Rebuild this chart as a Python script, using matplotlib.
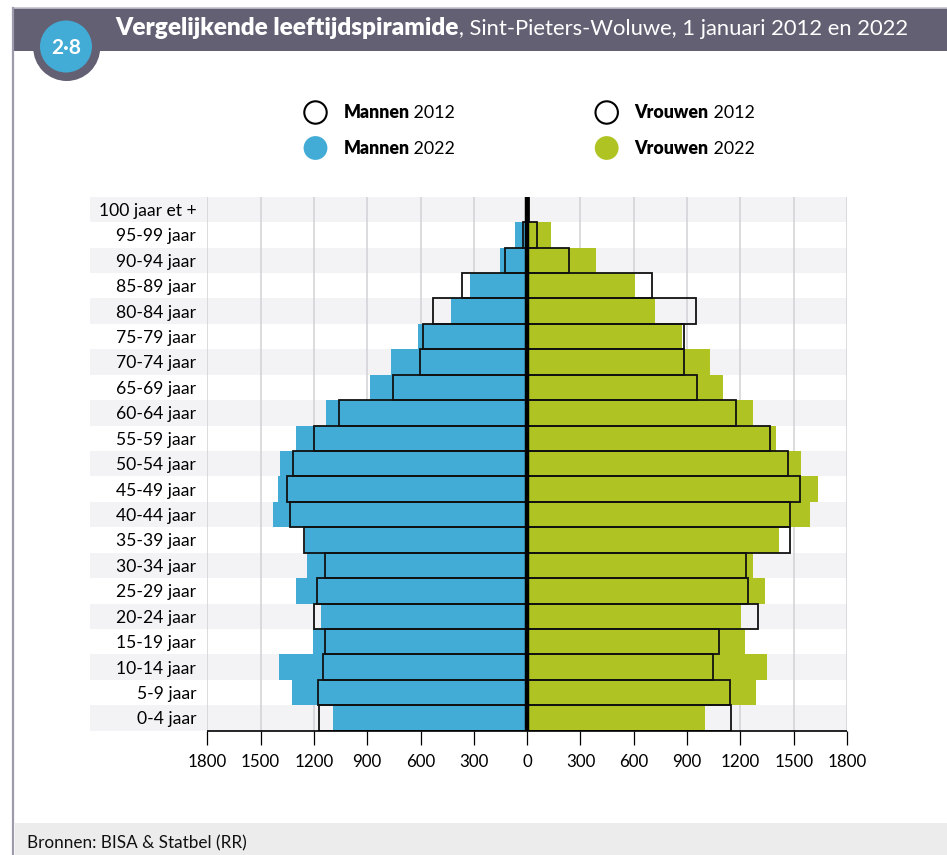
import matplotlib
matplotlib.use("Agg")
import matplotlib.pyplot as plt
from matplotlib.patches import Rectangle, Circle

# ---------------- data ----------------
age_groups = ["0-4 jaar", "5-9 jaar", "10-14 jaar", "15-19 jaar", "20-24 jaar",
              "25-29 jaar", "30-34 jaar", "35-39 jaar", "40-44 jaar", "45-49 jaar",
              "50-54 jaar", "55-59 jaar", "60-64 jaar", "65-69 jaar", "70-74 jaar",
              "75-79 jaar", "80-84 jaar", "85-89 jaar", "90-94 jaar", "95-99 jaar",
              "100 jaar et +"]
men_2022 = [1093, 1323, 1397, 1205, 1160, 1301, 1239, 1250, 1430, 1402,
            1391, 1301, 1132, 885, 767, 615, 431, 322, 154, 69, 3]
men_2012 = [1173, 1175, 1147, 1136, 1200, 1181, 1136, 1254, 1335, 1350,
            1316, 1198, 1057, 757, 602, 588, 532, 369, 127, 22, 2]
women_2022 = [999, 1286, 1352, 1224, 1202, 1337, 1270, 1416, 1590, 1634,
              1540, 1399, 1270, 1101, 1027, 874, 718, 605, 386, 133, 10]
women_2012 = [1150, 1144, 1046, 1080, 1300, 1241, 1232, 1481, 1481, 1536,
              1466, 1365, 1178, 956, 880, 883, 953, 700, 238, 56, 8]
x_ticks = [-1800, -1500, -1200, -900, -600, -300, 0, 300, 600, 900, 1200, 1500, 1800]
x_tick_labels = ["1800", "1500", "1200", "900", "600", "300", "0",
                 "300", "600", "900", "1200", "1500", "1800"]
title_bold = "Vergelijkende leeftijdspiramide"
title_rest = ", Sint-Pieters-Woluwe, 1 januari 2012 en 2022"
legend_items = [("Mannen", " 2012"), ("Mannen", " 2022"),
                ("Vrouwen", " 2012"), ("Vrouwen", " 2022")]
source = "Bronnen: BISA & Statbel (RR)"
badge = "2·8"

# ---------------- style ----------------
W, H = 947, 855
BLUE = "#42acd6"
GREEN = "#afc423"
BAND = "#636073"
STRIPE = "#f3f3f5"
GRID = "#d2d2d6"
FONT = ["Lato", "DejaVu Sans"]
plt.rcParams["font.family"] = FONT

fig = plt.figure(figsize=(W / 100, H / 100), dpi=100)
fig.patch.set_facecolor("white")

# overlay axes in pixel coordinates
ov = fig.add_axes([0, 0, 1, 1], zorder=-1)
ov.set_xlim(0, W)
ov.set_ylim(H, 0)
ov.axis("off")

# main axes
x0, x1 = 207.3, 847.0
y0, y1 = 196.7, 730.7
ax = fig.add_axes([x0 / W, 1 - y1 / H, (x1 - x0) / W, (y1 - y0) / H], zorder=1)
ax.patch.set_visible(False)
ax.set_xlim(-1800, 1800)
ax.set_ylim(-0.5, len(age_groups) - 0.5)
for s in ax.spines.values():
    s.set_visible(False)

ypos = list(range(len(age_groups)))

# stripes
stripe_left = (90 - x0) / (x1 - x0)
for i in ypos:
    if i % 2 == 0:
        ax.add_patch(Rectangle((stripe_left, i - 0.5), 1 - stripe_left, 1,
                               transform=ax.get_yaxis_transform(),
                               facecolor=STRIPE, edgecolor="none",
                               clip_on=False, zorder=0))
# grid
for t in x_ticks:
    if t != 0:
        ax.axvline(t, color=GRID, lw=1.1, zorder=1)

# bars
ax.barh(ypos, [-v for v in men_2022], height=1.0, color=BLUE, lw=0, zorder=2)
ax.barh(ypos, women_2022, height=1.0, color=GREEN, lw=0, zorder=2)
ax.barh(ypos, [-v for v in men_2012], height=1.0, fill=False,
        edgecolor="#111111", lw=1.3, zorder=3)
ax.barh(ypos, women_2012, height=1.0, fill=False,
        edgecolor="#111111", lw=1.3, zorder=3)
ax.axvline(0, color="black", lw=3.2, zorder=5)
ax.plot([-1800, 1800], [-0.5, -0.5], color="black", lw=1.2,
        clip_on=False, zorder=6, solid_capstyle="butt")

ax.set_xticks(x_ticks)
ax.set_xticklabels(x_tick_labels, fontsize=12.2)
ax.tick_params(axis="x", length=10, width=0.9, color="black", pad=7)
ax.set_yticks(ypos)
ax.set_yticklabels(age_groups, fontsize=12.6)
ax.tick_params(axis="y", length=0, pad=8)

# ---------------- header ----------------
ov.add_patch(Rectangle((13.3, 8.3), W - 13.3, 43, facecolor=BAND, edgecolor="none"))
ov.plot([13.3, W], [8.3, 8.3], color="#c4c2cc", lw=1.2)
ov.plot([13.3, 13.3], [8.3, H], color="#9d9bab", lw=1.6)
ov.add_patch(Circle((66.7, 47.5), 33.5, facecolor=BAND, edgecolor="none"))
ov.add_patch(Circle((66.0, 46.5), 26.0, facecolor=BLUE, edgecolor="none"))
ov.text(66.0, 48.0, badge, color="white", fontsize=15, fontweight="bold",
        ha="center", va="center")

fig.canvas.draw()
R = fig.canvas.get_renderer()


def extent(t):
    return t.get_window_extent(R)


def fit(t, target):
    t.set_fontsize(t.get_fontsize() * target / extent(t).width)
    return t


tb = ov.text(115, 35.0, title_bold, color="white", fontsize=15,
             fontweight="heavy", va="baseline", ha="left")
fit(tb, 346)
right_px = extent(tb).x1  # display px, same as figure px here
tr = ov.text(right_px + 1, 35.0, title_rest, color="white", fontsize=15,
             va="baseline", ha="left")
fit(tr, 910 - right_px - 1)

# ---------------- legend ----------------
leg_pos = [(315.5, 112.5), (315.5, 148.0), (606.7, 112.5), (606.7, 148.0)]
leg_fill = ["white", BLUE, "white", GREEN]
for (cx, cy), fc, (b, r) in zip(leg_pos, leg_fill, legend_items):
    if fc == "white":
        ov.add_patch(Circle((cx, cy), 11.2, facecolor="white",
                            edgecolor="black", lw=1.5))
    else:
        ov.add_patch(Circle((cx, cy), 11.9, facecolor=fc, edgecolor="none"))
    tx = cx + 27.8
    t1 = ov.text(tx, cy + 5.8, b, fontsize=12.8, fontweight="heavy",
                 va="baseline", ha="left", color="black")
    w1 = extent(t1).width
    ov.text(tx + w1, cy + 5.8, r, fontsize=12.8, va="baseline",
            ha="left", color="black")

# ---------------- footer ----------------
ov.add_patch(Rectangle((14.5, 823), W - 14.5, H - 823,
                       facecolor="#ececec", edgecolor="none"))
ts = ov.text(27, 848.5, source, fontsize=13, va="baseline", ha="left",
             color="#111111")
fit(ts, 218)

fig.savefig("out.png", dpi=100, facecolor="white")
